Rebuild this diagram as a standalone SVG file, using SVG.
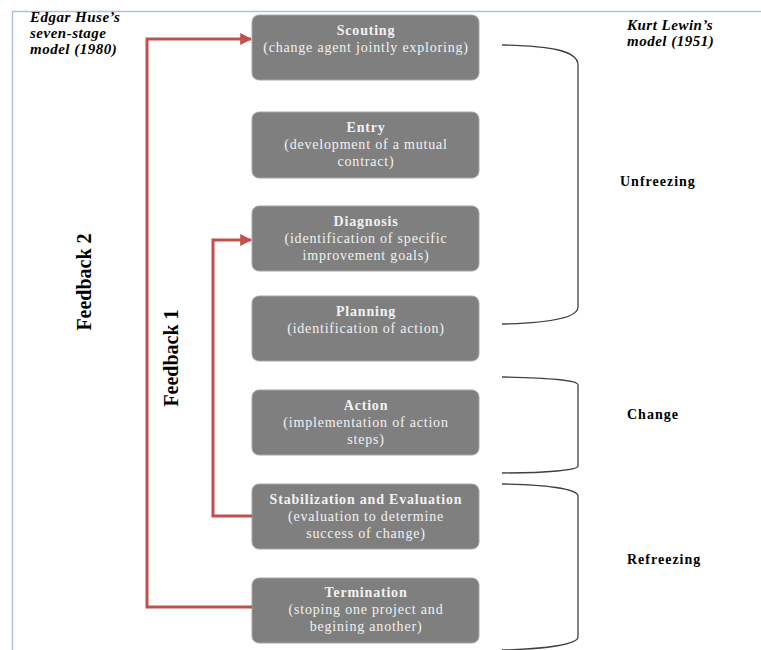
<svg xmlns="http://www.w3.org/2000/svg" width="761" height="650" viewBox="0 0 761 650">
  <defs>
    <marker id="arrow" viewBox="0 0 10 10" refX="9" refY="5" markerWidth="4" markerHeight="4" orient="auto" markerUnits="strokeWidth">
      <path d="M0,0 L10,5 L0,10 z" fill="#c0504d"/>
    </marker>
  </defs>
  <style>
    .stage rect { fill: #7f7f7f; stroke: #a6a6a6; stroke-width: 1; }
    .stage text { font-family: "Liberation Serif", "Times New Roman", serif; font-size: 14px; letter-spacing: 0.8px; fill: #f2f2f2; text-anchor: middle; }
    .stage .title { font-weight: bold; }
    .feedback { fill: none; stroke: #c0504d; stroke-width: 3; }
    .brace { fill: none; stroke: #404040; stroke-width: 1.3; }
    .phase { font-family: "Liberation Serif", "Times New Roman", serif; font-size: 14px; letter-spacing: 1px; font-weight: bold; fill: #000; }
    .model { font-family: "Liberation Serif", "Times New Roman", serif; font-size: 15px; letter-spacing: 0.5px; font-weight: bold; font-style: italic; fill: #000; }
    .fblabel { font-family: "Liberation Serif", "Times New Roman", serif; font-size: 20px; font-weight: bold; fill: #000; text-anchor: middle; }
  </style>

  <rect width="761" height="650" fill="#ffffff"/>
  <!-- frame -->
  <path d="M12.5,650 L12.5,11.5 L761,11.5" fill="none" stroke="#a9c1e2" stroke-width="1.5"/>

  <!-- model captions -->
  <g id="huse-caption">
    <text class="model" x="30" y="22">Edgar Huse’s</text>
    <text class="model" x="30" y="38">seven-stage</text>
    <text class="model" x="30" y="54">model (1980)</text>
  </g>
  <g id="lewin-caption">
    <text class="model" x="627" y="30">Kurt Lewin’s</text>
    <text class="model" x="627" y="46">model (1951)</text>
  </g>

  <!-- stages -->
  <g id="scouting" class="stage">
    <rect x="252" y="15" width="227" height="65" rx="7"/>
    <text class="title" x="366" y="35">Scouting</text>
    <text x="366" y="52">(change agent jointly exploring)</text>
  </g>
  <g id="entry" class="stage">
    <rect x="252" y="112" width="227" height="66" rx="7"/>
    <text class="title" x="366" y="132">Entry</text>
    <text x="366" y="149">(development of a mutual</text>
    <text x="366" y="166">contract)</text>
  </g>
  <g id="diagnosis" class="stage">
    <rect x="252" y="206" width="227" height="65" rx="7"/>
    <text class="title" x="366" y="226">Diagnosis</text>
    <text x="366" y="243">(identification of specific</text>
    <text x="366" y="260">improvement goals)</text>
  </g>
  <g id="planning" class="stage">
    <rect x="252" y="296" width="227" height="65" rx="7"/>
    <text class="title" x="366" y="316">Planning</text>
    <text x="366" y="333">(identification of action)</text>
  </g>
  <g id="action" class="stage">
    <rect x="252" y="390" width="227" height="65" rx="7"/>
    <text class="title" x="366" y="410">Action</text>
    <text x="366" y="427">(implementation of action</text>
    <text x="366" y="444">steps)</text>
  </g>
  <g id="stabilization" class="stage">
    <rect x="252" y="484" width="227" height="65" rx="7"/>
    <text class="title" x="366" y="504">Stabilization and Evaluation</text>
    <text x="366" y="521">(evaluation to determine</text>
    <text x="366" y="538">success of change)</text>
  </g>
  <g id="termination" class="stage">
    <rect x="252" y="578" width="227" height="65" rx="7"/>
    <text class="title" x="366" y="597">Termination</text>
    <text x="366" y="614">(stoping one project and</text>
    <text x="366" y="631">begining another)</text>
  </g>

  <!-- feedback loops -->
  <g id="connectors">
    <path class="feedback" d="M252,607 L147,607 L147,39 L251,39" marker-end="url(#arrow)"/>
    <path class="feedback" d="M252,516 L213,516 L213,240 L251,240" marker-end="url(#arrow)"/>
  </g>

  <g id="feedback-labels">
    <text class="fblabel" transform="translate(91,282) rotate(-90)">Feedback 2</text>
    <text class="fblabel" transform="translate(178,358) rotate(-90)">Feedback 1</text>
  </g>

  <!-- Lewin phase braces -->
  <g id="unfreezing">
    <path class="brace" d="M502,45 C548,46 578,50 578,65 L578,307 C578,318 548,323 502,324"/>
    <text class="phase" x="620" y="186">Unfreezing</text>
  </g>
  <g id="change">
    <path class="brace" d="M502,377 C548,378 578,380 578,385 L578,466 C578,470 548,473 502,473"/>
    <text class="phase" x="627" y="419">Change</text>
  </g>
  <g id="refreezing">
    <path class="brace" d="M502,484 C548,485 578,489 578,496 L578,637 C578,644 548,649 502,650"/>
    <text class="phase" x="627" y="564">Refreezing</text>
  </g>
</svg>
